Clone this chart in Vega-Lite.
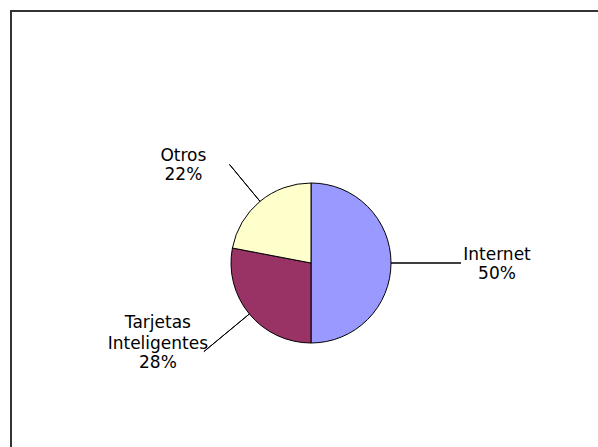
{
  "$schema": "https://vega.github.io/schema/vega-lite/v6.json",
  "width": 600,
  "height": 504,
  "padding": {"left": 11, "top": 11, "right": 0, "bottom": 0},
  "autosize": {"type": "none"},
  "background": "white",
  "view": {"stroke": "#333333", "strokeWidth": 2, "fill": "white"},
  "config": {
    "view": {"stroke": "#333333", "strokeWidth": 2},
    "text": {"font": "DejaVu Sans", "fontSize": 17, "color": "#000000"}
  },
  "data": {
    "values": [
      {"categoria": "Internet", "porcentaje": 0.50},
      {"categoria": "Tarjetas Inteligentes", "porcentaje": 0.28},
      {"categoria": "Otros", "porcentaje": 0.22}
    ]
  },
  "layer": [
    {
      "mark": {"type": "arc", "outerRadius": 80, "stroke": "#000000", "strokeWidth": 1},
      "encoding": {
        "theta": {"field": "porcentaje", "type": "quantitative", "stack": true, "scale": {"domain": [0, 1]}},
        "order": {"field": "porcentaje", "sort": "descending"},
        "color": {
          "field": "categoria",
          "type": "nominal",
          "scale": {"domain": ["Internet", "Tarjetas Inteligentes", "Otros"], "range": ["#9999FF", "#993366", "#FFFFCC"]},
          "legend": null
        }
      }
    },
    {
      "transform": [
        {"stack": "porcentaje", "groupby": [], "sort": [{"field": "porcentaje", "order": "descending"}], "as": ["inicio", "fin"]},
        {"fold": ["inicio", "fin"], "as": ["extremo", "angulo"]},
        {"aggregate": [{"op": "mean", "field": "angulo", "as": "medio"}], "groupby": ["categoria", "porcentaje"]}
      ],
      "layer": [
        {
          "mark": {"type": "arc", "stroke": "#000000", "strokeWidth": 1, "fill": null},
          "encoding": {
            "theta": {"field": "medio", "type": "quantitative", "stack": null, "scale": {"domain": [0, 1]}},
            "theta2": {"field": "medio"},
            "radius": {"field": "categoria", "type": "nominal", "scale": {"type": "point", "domain": ["Otros", "Tarjetas Inteligentes", "Internet"], "range": [128, 150]}},
            "radius2": {"value": 80}
          }
        },
        {
          "mark": {"type": "text", "lineBreak": " ", "lineHeight": 21, "baseline": "bottom", "align": "center",
                   "dx": {"expr": "datum.medio < 0.5 ? 36 : -46"},
                   "dy": {"expr": "1 - 21 * (length(split(datum.categoria, ' ')) - 1)"}},
          "encoding": {
            "theta": {"field": "medio", "type": "quantitative", "stack": null, "scale": {"domain": [0, 1]}},
            "radius": {"field": "categoria", "type": "nominal", "scale": {"type": "point", "domain": ["Otros", "Tarjetas Inteligentes", "Internet"], "range": [128, 150]}},
            "text": {"field": "categoria", "type": "nominal"}
          }
        },
        {
          "mark": {"type": "text", "baseline": "top", "align": "center", "dy": 3, "dx": {"expr": "datum.medio < 0.5 ? 36 : -46"}},
          "encoding": {
            "theta": {"field": "medio", "type": "quantitative", "stack": null, "scale": {"domain": [0, 1]}},
            "radius": {"field": "categoria", "type": "nominal", "scale": {"type": "point", "domain": ["Otros", "Tarjetas Inteligentes", "Internet"], "range": [128, 150]}},
            "text": {"field": "porcentaje", "type": "quantitative", "format": ".0%"}
          }
        }
      ]
    }
  ]
}
